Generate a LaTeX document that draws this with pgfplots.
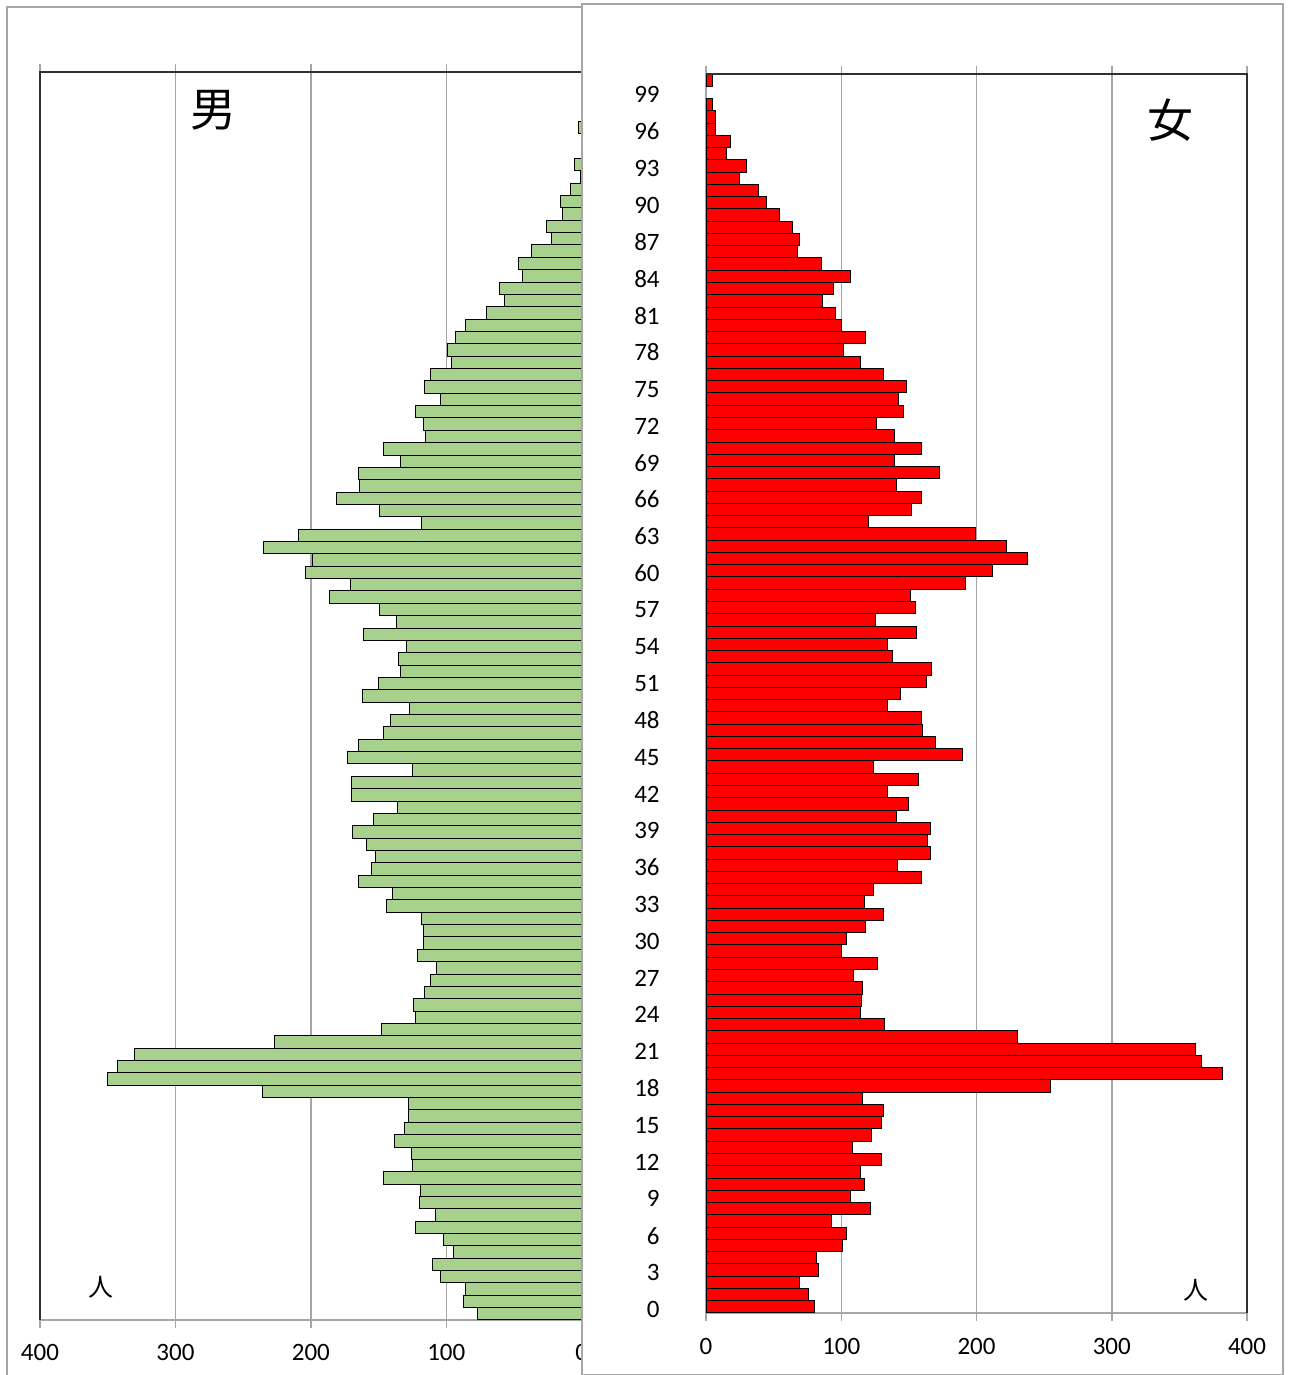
\documentclass[border=0pt]{standalone}
\usepackage{fontspec}
\setmainfont{Carlito}
\newfontfamily\cjk{Noto Sans CJK JP}
\usepackage{pgfplots}
\pgfplotsset{compat=1.18}
\usepackage{pgfplotstable}

\pgfplotstableread{
age val
0 77
1 87
2 86
3 104
4 110
5 95
6 102
7 123
8 108
9 120
10 119
11 146
12 125
13 126
14 138
15 131
16 128
17 128
18 236
19 350
20 343
21 330
22 227
23 148
24 123
25 124
26 116
27 112
28 107
29 121
30 117
31 117
32 118
33 144
34 140
35 165
36 155
37 152
38 159
39 169
40 154
41 136
42 170
43 170
44 125
45 173
46 165
47 146
48 141
49 127
50 162
51 150
52 134
53 135
54 129
55 161
56 137
57 149
58 186
59 171
60 204
61 199
62 235
63 209
64 118
65 149
66 181
67 164
68 165
69 134
70 146
71 115
72 117
73 123
74 104
75 116
76 112
77 96
78 99
79 93
80 86
81 70
82 57
83 61
84 44
85 47
86 37
87 22
88 26
89 14
90 16
91 8
92 1
93 5
96 2
}\male

\pgfplotstableread{
age val
0 80
1 75.5
2 69
3 83
4 82
5 101
6 104
7 93
8 121.5
9 106.5
10 117
11 114
12 130
13 108
14 122
15 130
16 131
17 116
18 255
19 382
20 366
21 362
22 230
23 132
24 114
25 115
26 116
27 109
28 127
29 100
30 104
31 118
32 131
33 117
34 123.5
35 159
36 141.5
37 166
38 164
39 166
40 141
41 150
42 134
43 157
44 123.5
45 189.5
46 170
47 160
48 159
49 134
50 144
51 163
52 167
53 138
54 134
55 156
56 125
57 155
58 151
59 192
60 212
61 237.5
62 222
63 199.5
64 120
65 152
66 159
67 140.5
68 172.5
69 139
70 159
71 139
72 126
73 146
74 142.5
75 148.5
76 131
77 114
78 102
79 118
80 100
81 96
82 86
83 94
84 106.5
85 85.5
86 67.5
87 69
88 64
89 54
90 45
91 39
92 25
93 30
94 15
95 18
96 7
97 7
98 5
100 5
}\female

\definecolor{mgreen}{HTML}{A9D18E}
\definecolor{fred}{HTML}{FF0000}
\definecolor{gridc}{HTML}{A6A6A6}
\definecolor{framec}{HTML}{A6A6A6}
\definecolor{borderc}{HTML}{303030}

\pgfplotsset{
  pyr/.style={
    scale only axis,
    xbar, bar width=1,
    xmin=0, xmax=400, ymin=-0.5, ymax=100.5,
    xtick={0,100,...,400},
    xmajorgrids,
    major grid style={gridc, line width=0.75pt},
    axis line style={gridc, line width=0.75pt},
    tick align=outside, major tick length=4pt,
    xtick style={gridc, line width=0.75pt},
    ytick style={draw=none},
    tick label style={font=\fontsize{12.5}{14}\selectfont},
    /pgf/number format/assume math mode=true,
    xticklabel style={inner sep=0pt},
  }
}

\begin{document}
\begin{tikzpicture}[x=0.5pt,y=0.5pt]
% left panel frame
\draw[framec, line width=0.6pt] (7,0) -- (7,1368) -- (600,1368);
\begin{axis}[pyr,
  at={(20pt,27.5pt)}, anchor=south west,
  width=270.85pt, height=624pt,
  x dir=reverse,
  ytick=\empty,
  xticklabel style={yshift=-8pt},
]
\addplot[xbar, fill=mgreen, draw=black, line width=0.5pt] table[x=val,y=age]{\male};
\end{axis}
\draw[borderc, line width=0.75pt] (40,55) -- (40,1303) -- (582,1303);
\node[font=\cjk\fontsize{23}{26}\selectfont] at (213,1265) {男};
\node[font=\cjk\fontsize{12.5}{14}\selectfont] at (101,88) {人};
% right panel frame
\filldraw[fill=white, draw=framec, line width=0.6pt] (582,0) rectangle (1283,1371);
\begin{axis}[pyr,
  at={(353pt,31pt)}, anchor=south west,
  width=270.5pt, height=619.5pt,
  ytick={0,3,...,99},
  yticklabel style={anchor=east, inner sep=0pt, xshift=-19pt, yshift=-1.2pt},
  xticklabel style={yshift=-8.5pt},
]
\addplot[xbar, fill=fred, draw=black, line width=0.5pt] table[x=val,y=age]{\female};
\end{axis}
\draw[borderc, line width=0.75pt] (706,1301) -- (1247,1301) -- (1247,62);
\node[font=\cjk\fontsize{23}{26}\selectfont] at (1170,1255) {女};
\node[font=\cjk\fontsize{12.5}{14}\selectfont] at (1196,85) {人};
\pgfresetboundingbox
\path[use as bounding box] (0,0) rectangle (1289,1375);
\end{tikzpicture}
\end{document}
